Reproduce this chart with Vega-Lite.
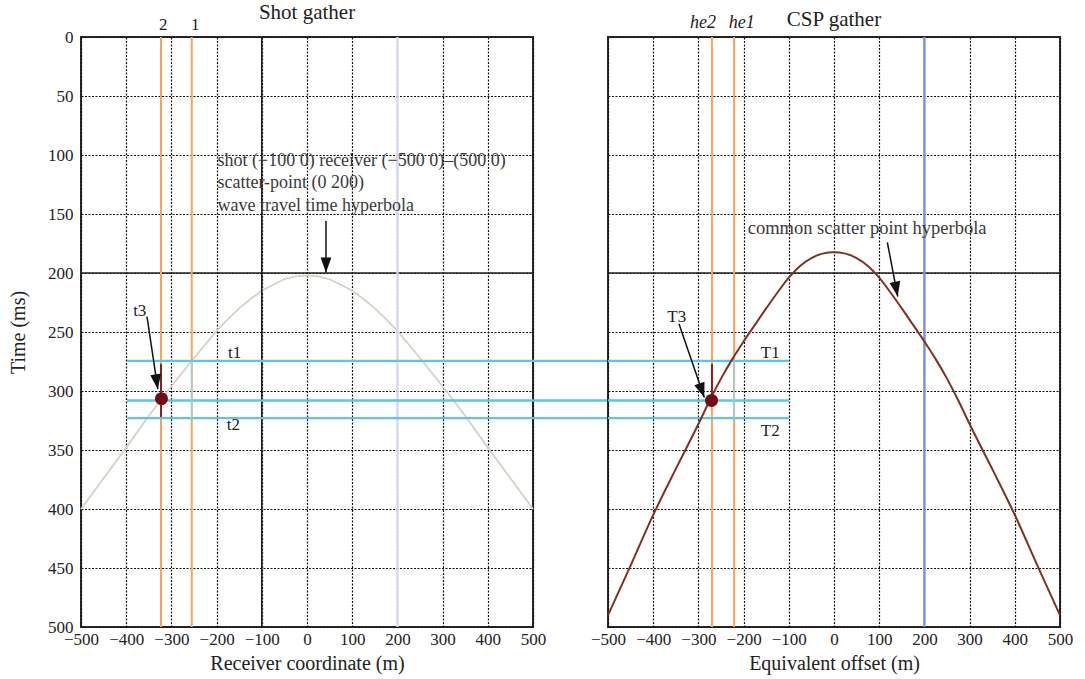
{
  "$schema": "https://vega.github.io/schema/vega-lite/v6.json",
  "background": "white",
  "padding": {"left": 7, "top": 1, "right": 10, "bottom": 2},
  "config": {
    "font": "Liberation Serif",
    "view": {"stroke": "#2a2a2a", "strokeWidth": 2},
    "axis": {
      "labelFont": "Liberation Serif", "titleFont": "Liberation Serif",
      "labelFontSize": 17, "titleFontSize": 20, "labelColor": "#222", "titleColor": "#222",
      "titleFontWeight": "normal", "grid": true, "gridColor": "#111", "gridDash": [2, 1.5],
      "gridWidth": 1.2, "gridOpacity": 1, "ticks": false, "domain": false,
      "labelOverlap": false, "labelFlush": false
    }
  },
  "datasets": {
    "leftCurve": [
      {"x": -500, "y": 400}, {"x": -450, "y": 374}, {"x": -400, "y": 348}, {"x": -350, "y": 321},
      {"x": -300, "y": 296}, {"x": -250, "y": 272}, {"x": -200, "y": 249}, {"x": -175, "y": 239},
      {"x": -150, "y": 230}, {"x": -125, "y": 222}, {"x": -100, "y": 215}, {"x": -75, "y": 210},
      {"x": -50, "y": 205.3}, {"x": -25, "y": 202.8}, {"x": 0, "y": 202}, {"x": 25, "y": 202.8},
      {"x": 50, "y": 205.3}, {"x": 75, "y": 210}, {"x": 100, "y": 215}, {"x": 125, "y": 222},
      {"x": 150, "y": 230}, {"x": 175, "y": 239}, {"x": 200, "y": 249}, {"x": 250, "y": 272},
      {"x": 300, "y": 296}, {"x": 350, "y": 321}, {"x": 400, "y": 348}, {"x": 450, "y": 374},
      {"x": 500, "y": 400}
    ],
    "rightCurve": [
      {"x": -500, "y": 490}, {"x": -450, "y": 448}, {"x": -400, "y": 405}, {"x": -350, "y": 366},
      {"x": -300, "y": 328}, {"x": -275, "y": 308}, {"x": -250, "y": 289.5}, {"x": -225, "y": 273},
      {"x": -200, "y": 258}, {"x": -175, "y": 244}, {"x": -150, "y": 230}, {"x": -125, "y": 216.5},
      {"x": -100, "y": 204}, {"x": -75, "y": 194}, {"x": -50, "y": 187.3}, {"x": -25, "y": 183.6},
      {"x": 0, "y": 182.5}, {"x": 25, "y": 183.6}, {"x": 50, "y": 187.3}, {"x": 75, "y": 194},
      {"x": 100, "y": 204}, {"x": 125, "y": 216.5}, {"x": 150, "y": 230}, {"x": 175, "y": 244},
      {"x": 200, "y": 258}, {"x": 225, "y": 273}, {"x": 250, "y": 289.5}, {"x": 275, "y": 308},
      {"x": 300, "y": 328}, {"x": 350, "y": 366}, {"x": 400, "y": 405}, {"x": 450, "y": 448},
      {"x": 500, "y": 490}
    ],
    "leftTop": [
      {"x": -318, "y": 0, "label": "2", "kind": "mark"},
      {"x": -247, "y": 0, "label": "1", "kind": "mark"},
      {"x": 0, "y": 0, "label": "Shot gather", "kind": "title"}
    ],
    "rightTop": [
      {"x": -290, "y": 0, "label": "he2", "kind": "mark"},
      {"x": -204, "y": 0, "label": "he1", "kind": "mark"},
      {"x": 0, "y": 0, "label": "CSP gather", "kind": "title"}
    ],
    "leftBlack": [{"x": -100, "x2": -100, "y": 0, "y2": 500}, {"x": -500, "x2": 500, "y": 200, "y2": 200}],
    "rightBlack": [{"x": -500, "x2": 500, "y": 200, "y2": 200}],
    "blueLine": [{"x": 200, "x2": 200, "y": 0, "y2": 500}],
    "leftOrange": [
      {"x": -323, "x2": -323, "y": 0, "y2": 500},
      {"x": -255, "x2": -255, "y": 0, "y2": 500}
    ],
    "rightOrange": [
      {"x": -270, "x2": -270, "y": 0, "y2": 500},
      {"x": -221, "x2": -221, "y": 0, "y2": 500}
    ],
    "leftCyan": [
      {"x": -398, "x2": 670, "y": 274.5, "y2": 274.5},
      {"x": -398, "x2": 670, "y": 308, "y2": 308},
      {"x": -398, "x2": 670, "y": 323, "y2": 323}
    ],
    "rightCyan": [
      {"x": -500, "x2": -100, "y": 274.5, "y2": 274.5},
      {"x": -500, "x2": -100, "y": 308, "y2": 308},
      {"x": -500, "x2": -100, "y": 323, "y2": 323}
    ],
    "leftCyanV": [{"x": -255, "x2": -255, "y": 274.5, "y2": 323}],
    "rightCyanV": [{"x": -221, "x2": -221, "y": 274.5, "y2": 323}],
    "leftStem": [{"x": -323, "x2": -323, "y": 277, "y2": 322}],
    "rightStem": [{"x": -270, "x2": -270, "y": 277, "y2": 312}],
    "leftDot": [{"x": -322, "y": 306.5}],
    "rightDot": [{"x": -271, "y": 308}],
    "leftLabels": [
      {"x": -160, "y": 268, "label": "t1"}, {"x": -163, "y": 329, "label": "t2"}, {"x": -370, "y": 232, "label": "t3"}
    ],
    "rightLabels": [
      {"x": -141, "y": 267.5, "label": "T1"}, {"x": -141, "y": 334, "label": "T2"}, {"x": -348, "y": 237.5, "label": "T3"}
    ],
    "leftNotes": [
      {"x": -198, "y": 105, "label": "shot (−100 0) receiver (−500 0)–(500 0)"},
      {"x": -198, "y": 124, "label": "scatter-point (0 200)"},
      {"x": -198, "y": 143, "label": "wave travel time hyperbola"}
    ],
    "rightNotes": [{"x": -191, "y": 162, "label": "common scatter point hyperbola"}],
    "leftArrows": [
      {"x": 42, "y": 156, "x2": 42, "y2": 199.5, "angle": 0},
      {"x": -354, "y": 237, "x2": -330, "y2": 298.5, "angle": -8.5}
    ],
    "rightArrows": [
      {"x": -343, "y": 243, "x2": -287, "y2": 305.6, "angle": -19},
      {"x": 118, "y": 174, "x2": 141, "y2": 220, "angle": -11}
    ]
  },
  "spacing": 75,
  "bounds": "flush",
  "hconcat": [
    {
      "width": 452,
      "height": 590,
      "encoding": {
        "x": {"field": "x", "type": "quantitative", "scale": {"domain": [-500, 500], "nice": false, "zero": false},
          "axis": {"title": "Receiver coordinate (m)", "values": [-500, -400, -300, -200, -100, 0, 100, 200, 300, 400, 500], "labelPadding": 4, "titlePadding": 6}},
        "y": {"field": "y", "type": "quantitative", "scale": {"domain": [0, 500], "nice": false, "reverse": true},
          "axis": {"title": "Time (ms)", "values": [0, 50, 100, 150, 200, 250, 300, 350, 400, 450, 500], "labelPadding": 8, "titlePadding": 19}}
      },
      "layer": [
        {"data": {"name": "leftCurve"}, "mark": {"type": "line", "color": "#d3d3c5", "strokeWidth": 1.8}},
        {"data": {"name": "leftBlack"}, "mark": {"type": "rule", "color": "#222", "strokeWidth": 1.6},
          "encoding": {"x2": {"field": "x2"}, "y2": {"field": "y2"}}},
        {"data": {"name": "blueLine"}, "mark": {"type": "rule", "color": "#d3d9ee", "strokeWidth": 2.2},
          "encoding": {"x2": {"field": "x2"}, "y2": {"field": "y2"}}},
        {"data": {"name": "leftOrange"}, "mark": {"type": "rule", "color": "#f5a65b", "strokeWidth": 2},
          "encoding": {"x2": {"field": "x2"}, "y2": {"field": "y2"}}},
        {"data": {"name": "leftTop"}, "transform": [{"filter": "datum.kind === 'mark'"}],
          "mark": {"type": "text", "fontSize": 17, "color": "#222", "baseline": "alphabetic", "dy": -7},
          "encoding": {"text": {"field": "label"}}},
        {"data": {"name": "leftTop"}, "transform": [{"filter": "datum.kind === 'title'"}],
          "mark": {"type": "text", "fontSize": 21, "color": "#222", "baseline": "alphabetic", "dy": -18},
          "encoding": {"text": {"field": "label"}}},
        {"data": {"name": "leftCyan"}, "mark": {"type": "rule", "color": "#5ac6ea", "strokeWidth": 2.4},
          "encoding": {"x2": {"field": "x2"}, "y2": {"field": "y2"}}},
        {"data": {"name": "leftCyanV"}, "mark": {"type": "rule", "color": "#8fd6ee", "strokeWidth": 1.4},
          "encoding": {"x2": {"field": "x2"}, "y2": {"field": "y2"}}},
        {"data": {"name": "leftStem"}, "mark": {"type": "rule", "color": "#8a1f1f", "strokeWidth": 2},
          "encoding": {"x2": {"field": "x2"}, "y2": {"field": "y2"}}},
        {"data": {"name": "leftDot"}, "mark": {"type": "point", "filled": true, "color": "#700b18", "size": 170, "opacity": 1}},
        {"data": {"name": "leftArrows"}, "mark": {"type": "rule", "color": "#111", "strokeWidth": 1.5},
          "encoding": {"x2": {"field": "x2"}, "y2": {"field": "y2"}}},
        {"data": {"name": "leftArrows"}, "mark": {"type": "point", "filled": true, "color": "#111", "opacity": 1, "size": 900, "shape": "M-0.36,-1L0.36,-1L0,0Z"},
          "encoding": {
            "x": {"field": "x2", "type": "quantitative", "scale": {"domain": [-500, 500], "nice": false, "zero": false}},
            "y": {"field": "y2", "type": "quantitative", "scale": {"domain": [0, 500], "nice": false, "reverse": true}},
            "angle": {"field": "angle", "type": "quantitative", "scale": null}}},
        {"data": {"name": "leftLabels"}, "mark": {"type": "text", "fontSize": 17, "color": "#222", "align": "center", "baseline": "middle"},
          "encoding": {"text": {"field": "label"}}},
        {"data": {"name": "leftNotes"}, "mark": {"type": "text", "fontSize": 18, "color": "#3a3a3a", "align": "left", "baseline": "middle"},
          "encoding": {"text": {"field": "label"}}}
      ]
    },
    {
      "width": 452,
      "height": 590,
      "encoding": {
        "x": {"field": "x", "type": "quantitative", "scale": {"domain": [-500, 500], "nice": false, "zero": false},
          "axis": {"title": "Equivalent offset (m)", "values": [-500, -400, -300, -200, -100, 0, 100, 200, 300, 400, 500], "labelPadding": 4, "titlePadding": 6}},
        "y": {"field": "y", "type": "quantitative", "scale": {"domain": [0, 500], "nice": false, "reverse": true},
          "axis": {"title": null, "labels": false, "values": [0, 50, 100, 150, 200, 250, 300, 350, 400, 450, 500]}}
      },
      "layer": [
        {"data": {"name": "rightBlack"}, "mark": {"type": "rule", "color": "#222", "strokeWidth": 1.6},
          "encoding": {"x2": {"field": "x2"}, "y2": {"field": "y2"}}},
        {"data": {"name": "blueLine"}, "mark": {"type": "rule", "color": "#7893d3", "strokeWidth": 2.4},
          "encoding": {"x2": {"field": "x2"}, "y2": {"field": "y2"}}},
        {"data": {"name": "rightOrange"}, "mark": {"type": "rule", "color": "#f5a65b", "strokeWidth": 2},
          "encoding": {"x2": {"field": "x2"}, "y2": {"field": "y2"}}},
        {"data": {"name": "rightTop"}, "transform": [{"filter": "datum.kind === 'mark'"}],
          "mark": {"type": "text", "fontSize": 18, "fontStyle": "italic", "color": "#222", "baseline": "alphabetic", "dy": -9},
          "encoding": {"text": {"field": "label"}}},
        {"data": {"name": "rightTop"}, "transform": [{"filter": "datum.kind === 'title'"}],
          "mark": {"type": "text", "fontSize": 21, "color": "#222", "baseline": "alphabetic", "dy": -11},
          "encoding": {"text": {"field": "label"}}},
        {"data": {"name": "rightCyan"}, "mark": {"type": "rule", "color": "#5ac6ea", "strokeWidth": 2.4},
          "encoding": {"x2": {"field": "x2"}, "y2": {"field": "y2"}}},
        {"data": {"name": "rightCyanV"}, "mark": {"type": "rule", "color": "#8fd6ee", "strokeWidth": 1.4},
          "encoding": {"x2": {"field": "x2"}, "y2": {"field": "y2"}}},
        {"data": {"name": "rightCurve"}, "mark": {"type": "line", "color": "#7a3424", "strokeWidth": 2, "interpolate": "monotone"}},
        {"data": {"name": "rightStem"}, "mark": {"type": "rule", "color": "#8a1f1f", "strokeWidth": 2},
          "encoding": {"x2": {"field": "x2"}, "y2": {"field": "y2"}}},
        {"data": {"name": "rightDot"}, "mark": {"type": "point", "filled": true, "color": "#700b18", "size": 170, "opacity": 1}},
        {"data": {"name": "rightArrows"}, "mark": {"type": "rule", "color": "#111", "strokeWidth": 1.5},
          "encoding": {"x2": {"field": "x2"}, "y2": {"field": "y2"}}},
        {"data": {"name": "rightArrows"}, "mark": {"type": "point", "filled": true, "color": "#111", "opacity": 1, "size": 900, "shape": "M-0.36,-1L0.36,-1L0,0Z"},
          "encoding": {
            "x": {"field": "x2", "type": "quantitative", "scale": {"domain": [-500, 500], "nice": false, "zero": false}},
            "y": {"field": "y2", "type": "quantitative", "scale": {"domain": [0, 500], "nice": false, "reverse": true}},
            "angle": {"field": "angle", "type": "quantitative", "scale": null}}},
        {"data": {"name": "rightLabels"}, "mark": {"type": "text", "fontSize": 17, "color": "#222", "align": "center", "baseline": "middle"},
          "encoding": {"text": {"field": "label"}}},
        {"data": {"name": "rightNotes"}, "mark": {"type": "text", "fontSize": 18.5, "color": "#3a3a3a", "align": "left", "baseline": "middle"},
          "encoding": {"text": {"field": "label"}}}
      ]
    }
  ]
}
